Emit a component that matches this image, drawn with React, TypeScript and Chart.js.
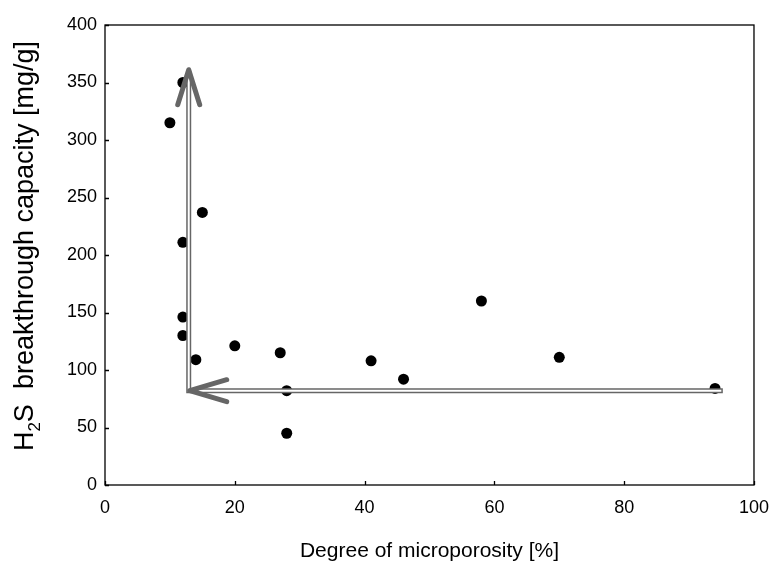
import React, { useEffect, useRef } from "react";
import { Chart, registerables } from "chart.js";

Chart.register(...registerables);

const microporosity = [10, 12, 12, 15, 12, 12, 14, 20, 27, 28, 28, 41, 46, 58, 70, 94];
const capacity = [315, 350, 211, 237, 146, 130, 109, 121, 115, 82, 45, 108, 92, 160, 111, 84];
const xTickValues = [0, 20, 40, 60, 80, 100];
const yTickValues = [0, 50, 100, 150, 200, 250, 300, 350, 400];
const verticalArrowX = [12.9, 12.9];
const verticalArrowY = [82, 362];
const horizontalArrowX = [95.2, 12.9];
const horizontalArrowY = [82, 82];
const xTitle = "Degree of microporosity [%]";
const yTitleParts = ["H", "2", "S  breakthrough capacity [mg/g]"];

const FONT = "Liberation Sans, Arial, Helvetica, sans-serif";
const X_TITLE_SIZE = 21;
const Y_TITLE_SIZE = 27;
const SUB_SIZE = 17;

const decorPlugin = {
  id: "decor",
  afterDatasetsDraw(chart: any) {
    const ctx = chart.ctx;
    const xs = chart.scales.x;
    const ys = chart.scales.y;
    const a = chart.chartArea;
    ctx.save();
    // frame
    ctx.strokeStyle = "#000";
    ctx.lineWidth = 1.3;
    ctx.strokeRect(a.left, a.top, a.right - a.left, a.bottom - a.top);
    // inward ticks
    ctx.beginPath();
    for (const v of xTickValues) {
      const px = Math.round(xs.getPixelForValue(v)) + 0.5;
      ctx.moveTo(px, a.bottom);
      ctx.lineTo(px, a.bottom - 4);
    }
    for (const v of yTickValues) {
      const py = Math.round(ys.getPixelForValue(v)) + 0.5;
      ctx.moveTo(a.left, py);
      ctx.lineTo(a.left + 4, py);
    }
    ctx.stroke();

    // arrows
    const vx0 = xs.getPixelForValue(verticalArrowX[0]);
    const vy0 = ys.getPixelForValue(verticalArrowY[0]);
    const vx1 = xs.getPixelForValue(verticalArrowX[1]);
    const vy1 = ys.getPixelForValue(verticalArrowY[1]);
    const hx0 = xs.getPixelForValue(horizontalArrowX[0]);
    const hy0 = ys.getPixelForValue(horizontalArrowY[0]);
    const hx1 = xs.getPixelForValue(horizontalArrowX[1]);
    const hy1 = ys.getPixelForValue(horizontalArrowY[1]);
    const gray = "#666666";
    ctx.lineCap = "butt";
    ctx.strokeStyle = gray;
    ctx.lineWidth = 5;
    ctx.beginPath();
    ctx.moveTo(vx0, vy0 + 2.5);
    ctx.lineTo(vx1, vy1 + 2);
    ctx.moveTo(hx0, hy0);
    ctx.lineTo(hx1 - 2.5, hy1);
    ctx.stroke();
    ctx.strokeStyle = "#ffffff";
    ctx.lineWidth = 2;
    ctx.beginPath();
    ctx.moveTo(vx0, vy0 + 1);
    ctx.lineTo(vx1, vy1 + 8);
    ctx.moveTo(hx0 - 1.5, hy0);
    ctx.lineTo(hx1 - 1, hy1);
    ctx.stroke();
    // arrowheads
    ctx.strokeStyle = gray;
    ctx.lineWidth = 5;
    ctx.lineCap = "round";
    ctx.lineJoin = "round";
    ctx.beginPath();
    ctx.moveTo(vx1 - 11, vy1 + 36);
    ctx.lineTo(vx1, vy1 + 1);
    ctx.lineTo(vx1 + 11, vy1 + 36);
    ctx.moveTo(hx1 + 38, hy1 - 11);
    ctx.lineTo(hx1 + 1, hy1);
    ctx.lineTo(hx1 + 38, hy1 + 11);
    ctx.stroke();

    // x title
    ctx.fillStyle = "#000";
    ctx.font = `${X_TITLE_SIZE}px ${FONT}`;
    ctx.textAlign = "center";
    ctx.textBaseline = "alphabetic";
    ctx.fillText(xTitle, (a.left + a.right) / 2, 557);

    // y title with subscript
    ctx.save();
    ctx.translate(33, 246);
    ctx.rotate(-Math.PI / 2);
    ctx.textAlign = "left";
    ctx.font = `${Y_TITLE_SIZE}px ${FONT}`;
    const w0 = ctx.measureText(yTitleParts[0]).width;
    ctx.font = `${SUB_SIZE}px ${FONT}`;
    const w1 = ctx.measureText(yTitleParts[1]).width;
    ctx.font = `${Y_TITLE_SIZE}px ${FONT}`;
    const w2 = ctx.measureText(yTitleParts[2]).width;
    const total = w0 + w1 + w2;
    let x = -total / 2;
    ctx.fillText(yTitleParts[0], x, 0);
    x += w0;
    ctx.font = `${SUB_SIZE}px ${FONT}`;
    ctx.fillText(yTitleParts[1], x, 7);
    x += w1;
    ctx.font = `${Y_TITLE_SIZE}px ${FONT}`;
    ctx.fillText(yTitleParts[2], x, 0);
    ctx.restore();

    ctx.restore();
  },
};

export default function App() {
  const canvasRef = useRef<HTMLCanvasElement | null>(null);

  useEffect(() => {
    document.body.style.margin = "0";
    const canvas = canvasRef.current;
    if (!canvas) return;
    const points = microporosity.map((x, i) => ({ x, y: capacity[i] }));
    const chart = new Chart(canvas, {
      type: "scatter",
      data: {
        datasets: [
          {
            data: points,
            backgroundColor: "#000",
            borderColor: "#000",
            pointRadius: 5.5,
            pointHoverRadius: 5.5,
            borderWidth: 0,
          },
        ],
      },
      options: {
        animation: false,
        responsive: false,
        layout: { padding: { left: 0, right: 8, top: 25, bottom: 0 } },
        plugins: {
          legend: { display: false },
          tooltip: { enabled: false },
        },
        scales: {
          x: {
            type: "linear",
            min: 0,
            max: 100,
            afterBuildTicks: (s: any) => {
              s.ticks = xTickValues.map((v) => ({ value: v }));
            },
            grid: { display: false },
            border: { display: false },
            ticks: {
              color: "#000",
              padding: 4,
              font: { family: FONT, size: 18 },
              maxRotation: 0,
            },
            afterFit: (s: any) => {
              s.height = 77;
            },
          },
          y: {
            type: "linear",
            min: 0,
            max: 400,
            afterBuildTicks: (s: any) => {
              s.ticks = yTickValues.map((v) => ({ value: v }));
            },
            grid: { display: false },
            border: { display: false },
            ticks: {
              color: "#000",
              padding: 0,
              font: { family: FONT, size: 18 },
            },
            afterFit: (s: any) => {
              s.width = 105;
            },
          },
        },
      },
      plugins: [decorPlugin],
    });
    return () => chart.destroy();
  }, []);

  return (
    <div style={{ width: 773, height: 562 }}>
      <canvas ref={canvasRef} width={773} height={562} />
    </div>
  );
}
